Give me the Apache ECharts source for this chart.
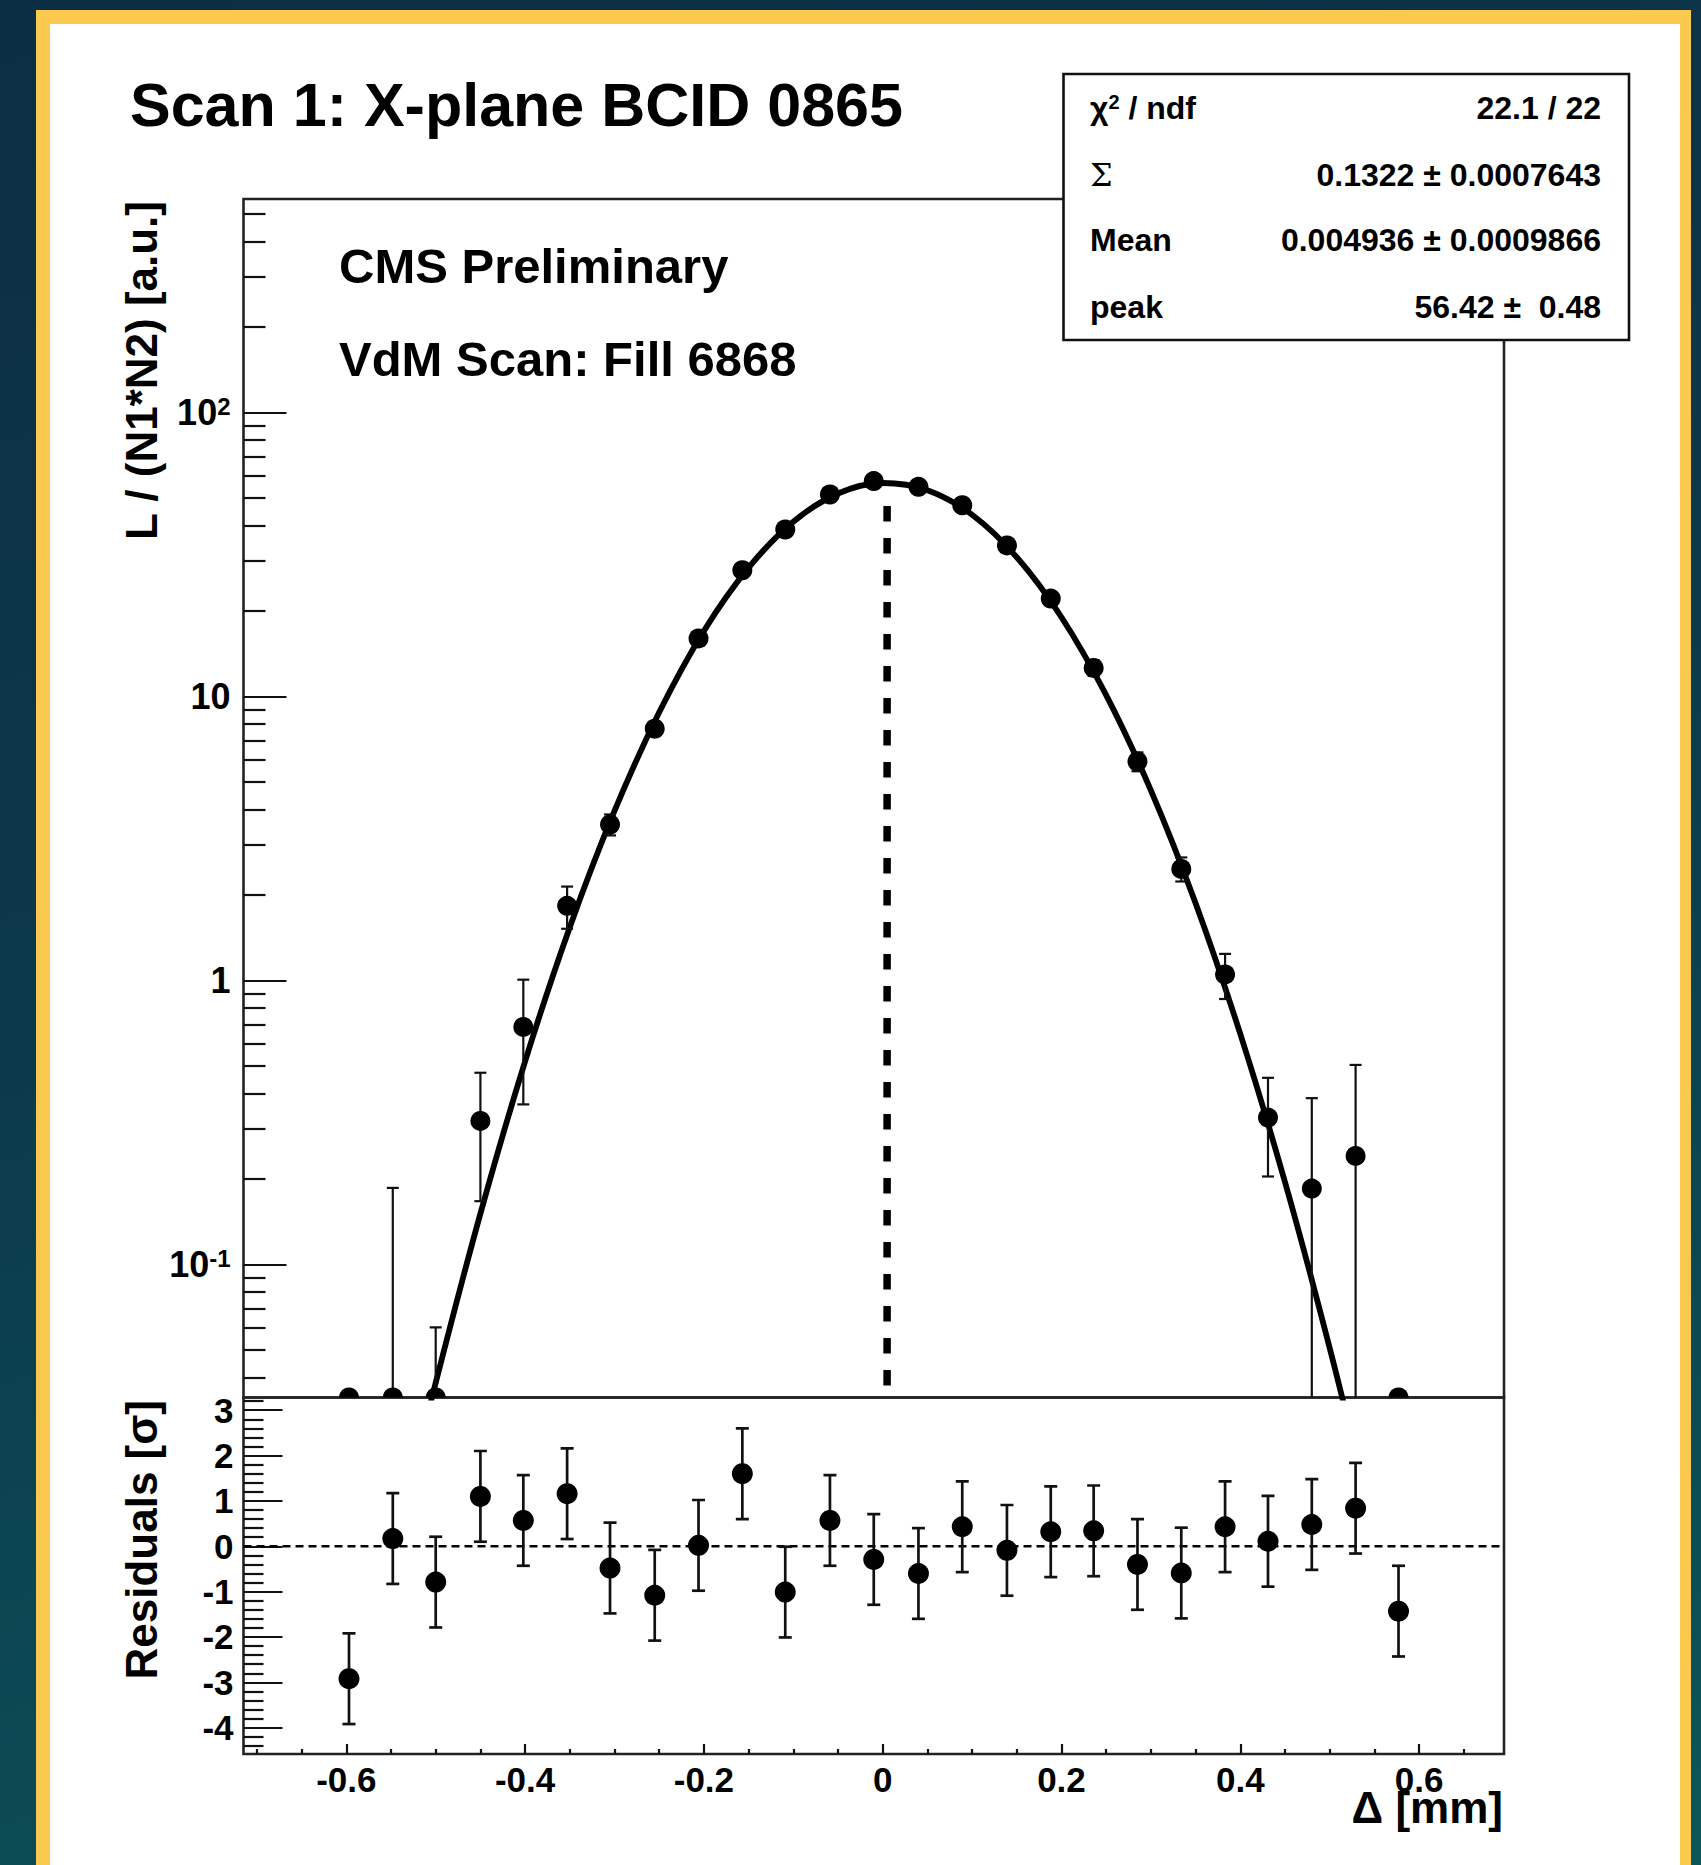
<!DOCTYPE html>
<html>
<head>
<meta charset="utf-8">
<script src="https://cdn.jsdelivr.net/npm/echarts@6/dist/echarts.min.js"></script>
<style>
html,body{margin:0;padding:0;width:1701px;height:1865px;overflow:hidden;}
body{position:relative;background:linear-gradient(165deg,#0c2e43 0%,#0c394c 45%,#0b5659 100%);}
#frame{position:absolute;left:36px;top:10px;width:1655px;height:1900px;background:#fcc94f;}
#panel{position:absolute;left:50px;top:24px;width:1630px;height:1900px;background:#ffffff;}
#chart{position:absolute;left:0;top:0;width:1701px;height:1865px;}
</style>
</head>
<body>
<div id="frame"></div>
<div id="panel"></div>
<div id="chart"></div>
<script>
// ---------------- data ----------------
const xPos = [-0.597, -0.548, -0.500, -0.450, -0.402, -0.353, -0.305, -0.255, -0.206, -0.157,
              -0.109, -0.059, -0.010, 0.040, 0.089, 0.139, 0.188, 0.236, 0.285, 0.334,
              0.383, 0.431, 0.480, 0.529, 0.577];
const lumi = [-0.045, 0.006, -0.040, 0.32, 0.686, 1.83, 3.54, 7.7, 16.0, 27.8,
              38.7, 51.4, 57.3, 54.7, 47.1, 34.0, 22.1, 12.6, 5.90, 2.47,
              1.05, 0.329, 0.185, 0.241, -0.05];
const lumiErr = [0.016, 0.18, 0.10, 0.153, 0.32, 0.31, 0.30, 0.45, 0.9, 0.75,
                 1.5, 2.1, 2.4, 2.6, 2.2, 1.6, 1.1, 0.8, 0.45, 0.24,
                 0.19, 0.125, 0.20, 0.263, 0.038];
const resid = [-2.92, 0.17, -0.79, 1.10, 0.57, 1.16, -0.48, -1.08, 0.02, 1.60,
               -1.01, 0.57, -0.29, -0.60, 0.43, -0.09, 0.32, 0.34, -0.40, -0.59,
               0.43, 0.11, 0.48, 0.84, -1.43];
const residErr = [1, 1, 1, 1, 1, 1, 1, 1, 1, 1, 1, 1, 1, 1, 1, 1, 1, 1, 1, 1, 1, 1, 1, 1, 1];

// fit curve
const fitX = [-0.53, -0.50, -0.45, -0.40, -0.35, -0.30, -0.25, -0.20, -0.15, -0.10, -0.05, 0.00,
              0.05, 0.10, 0.15, 0.20, 0.25, 0.30, 0.35, 0.40, 0.45, 0.50, 0.54];
const fitY = [0.0157, 0.0383, 0.151, 0.519, 1.54, 3.95, 8.79, 17.0, 28.4, 41.2, 51.8, 56.4,
              53.2, 43.6, 30.9, 19.0, 10.1, 4.67, 1.87, 0.648, 0.195, 0.0508, 0.0157];
const fitMean = 0.004936;
const meanLineTop = 48;   // top end of the dashed mean marker

// axes
const X_MIN = -0.715, X_MAX = 0.695;
const Y_MIN = 0.034, Y_MAX = 564;
const R_MIN = -4.58, R_MAX = 3.28;
const xMajorTicks = [-0.6, -0.4, -0.2, 0, 0.2, 0.4, 0.6];
const xMinorTicks = [-0.7, -0.65, -0.55, -0.5, -0.45, -0.35, -0.3, -0.25, -0.15, -0.1, -0.05,
                     0.05, 0.1, 0.15, 0.25, 0.3, 0.35, 0.45, 0.5, 0.55, 0.65];
const yMajorTicks = [0.1, 1, 10, 100];
const yMinorTicks = [0.04, 0.05, 0.06, 0.07, 0.08, 0.09,
                     0.2, 0.3, 0.4, 0.5, 0.6, 0.7, 0.8, 0.9,
                     2, 3, 4, 5, 6, 7, 8, 9,
                     20, 30, 40, 50, 60, 70, 80, 90,
                     200, 300, 400, 500];
const rMajorTicks = [-4, -3, -2, -1, 0, 1, 2, 3];
const rMinorTicks = [-4.4, -4.2, -3.8, -3.6, -3.4, -3.2, -2.8, -2.6, -2.4, -2.2,
                     -1.8, -1.6, -1.4, -1.2, -0.8, -0.6, -0.4, -0.2,
                     0.2, 0.4, 0.6, 0.8, 1.2, 1.4, 1.6, 1.8, 2.2, 2.4, 2.6, 2.8, 3.2];

// texts
const titleText = 'Scan 1: X-plane BCID 0865';
const cmsText = 'CMS Preliminary';
const fillText = 'VdM Scan: Fill 6868';
const yTitleUpper = 'L / (N1*N2) [a.u.]';
const yTitleLower = 'Residuals [σ]';
const xTitle = 'Δ [mm]';
const statRowsRight = ['22.1 / 22', '0.1322 ± 0.0007643', '0.004936 ± 0.0009866', '56.42 ±  0.48'];

// ---------------- chart ----------------
const FONT = '"Liberation Sans", Arial, Helvetica, sans-serif';
const INK = '#111';
const chart = echarts.init(document.getElementById('chart'), null, {renderer: 'svg'});

function renderUpper(params, api) {
  const x = api.value(0), v = api.value(1), e = api.value(2);
  const els = [];
  const top = v + e, bot = v - e;
  const floor = 1e-3;
  if (top > Y_MIN) {
    const pT = api.coord([x, top]);
    const pB = api.coord([x, Math.max(bot, floor)]);
    els.push({type: 'line', shape: {x1: pT[0], y1: pT[1], x2: pB[0], y2: pB[1]}, style: {stroke: INK, lineWidth: 2.2}});
    els.push({type: 'line', shape: {x1: pT[0] - 6, y1: pT[1], x2: pT[0] + 6, y2: pT[1]}, style: {stroke: INK, lineWidth: 2.2}});
    if (bot > floor) {
      els.push({type: 'line', shape: {x1: pB[0] - 6, y1: pB[1], x2: pB[0] + 6, y2: pB[1]}, style: {stroke: INK, lineWidth: 2.2}});
    }
  }
  const pc = api.coord([x, Math.max(v, Y_MIN)]);
  els.push({type: 'circle', shape: {cx: pc[0], cy: pc[1], r: 10}, style: {fill: '#000'}});
  return {type: 'group', children: els};
}

function renderResid(params, api) {
  const x = api.value(0), v = api.value(1), e = api.value(2);
  const pT = api.coord([x, v + e]);
  const pB = api.coord([x, v - e]);
  const pc = api.coord([x, v]);
  return {type: 'group', children: [
    {type: 'line', shape: {x1: pT[0], y1: pT[1], x2: pB[0], y2: pB[1]}, style: {stroke: INK, lineWidth: 2.7}},
    {type: 'line', shape: {x1: pT[0] - 6.5, y1: pT[1], x2: pT[0] + 6.5, y2: pT[1]}, style: {stroke: INK, lineWidth: 2.7}},
    {type: 'line', shape: {x1: pB[0] - 6.5, y1: pB[1], x2: pB[0] + 6.5, y2: pB[1]}, style: {stroke: INK, lineWidth: 2.7}},
    {type: 'circle', shape: {cx: pc[0], cy: pc[1], r: 10.5}, style: {fill: '#000'}}
  ]};
}

const tickLine = {color: INK, width: 2.2};
const labelBase = {color: '#000', fontFamily: FONT, fontWeight: 'bold', fontSize: 35};
const noLine = {show: false, onZero: false};

function logLabel(v) {
  const e = Math.round(Math.log10(v));
  if (e === 2) return '10{sup|2}';
  if (e === -1) return '10{sup|-1}';
  if (e === 1) return '10';
  return '1';
}

const G0 = {left: 243.5, top: 199, width: 1260.5, height: 1198.5};
const G1 = {left: 243.5, top: 1397.5, width: 1260.5, height: 356.5};
const frameStyle = {show: true, borderColor: '#222', borderWidth: 2.6, backgroundColor: 'transparent', containLabel: false};

const statLabels = [
  {text: '{a|χ}{s|2}{a| / ndf}', y: 108},
  {text: '{g|Σ}', y: 175},
  {text: '{a|Mean}', y: 240},
  {text: '{a|peak}', y: 307}
];
const statRich = {
  a: {fontFamily: FONT, fontWeight: 'bold', fontSize: 32, color: '#000'},
  g: {fontFamily: '"DejaVu Serif", serif', fontWeight: 'normal', fontSize: 32, color: '#000'},
  s: {fontFamily: FONT, fontWeight: 'bold', fontSize: 20, color: '#000', verticalAlign: 'top', lineHeight: 20}
};

const graphics = [
  {type: 'text', x: 130, y: 105, z: 50, style: {text: titleText, fontFamily: FONT, fontWeight: 'bold', fontSize: 61, fill: '#000', align: 'left', verticalAlign: 'middle'}},
  {type: 'text', x: 339, y: 266, z: 50, style: {text: cmsText, fontFamily: FONT, fontWeight: 'bold', fontSize: 49, fill: '#000', align: 'left', verticalAlign: 'middle'}},
  {type: 'text', x: 339, y: 359, z: 50, style: {text: fillText, fontFamily: FONT, fontWeight: 'bold', fontSize: 49, fill: '#000', align: 'left', verticalAlign: 'middle'}},
  {type: 'text', x: 141, y: 201, rotation: Math.PI / 2, z: 50, style: {text: yTitleUpper, fontFamily: FONT, fontWeight: 'bold', fontSize: 44, fill: '#000', align: 'right', verticalAlign: 'middle'}},
  {type: 'text', x: 141, y: 1400, rotation: Math.PI / 2, z: 50, style: {text: yTitleLower, fontFamily: FONT, fontWeight: 'bold', fontSize: 44, fill: '#000', align: 'right', verticalAlign: 'middle'}},
  {type: 'text', x: 1503, y: 1807, z: 50, style: {text: xTitle, fontFamily: FONT, fontWeight: 'bold', fontSize: 44, fill: '#000', align: 'right', verticalAlign: 'middle'}},
  {type: 'rect', z: 100, shape: {x: 1063.5, y: 74, width: 565.5, height: 266}, style: {fill: '#fff', stroke: '#111', lineWidth: 2.6}}
];
statLabels.forEach(function (r) {
  graphics.push({type: 'text', x: 1090, y: r.y, z: 101, style: {text: r.text, rich: statRich, fontFamily: FONT, fontWeight: 'bold', fontSize: 32, fill: '#000', align: 'left', verticalAlign: 'middle'}});
});
statRowsRight.forEach(function (t, i) {
  graphics.push({type: 'text', x: 1601, y: statLabels[i].y, z: 101, style: {text: t, fontFamily: FONT, fontWeight: 'bold', fontSize: 32, fill: '#000', align: 'right', verticalAlign: 'middle'}});
});

const option = {
  animation: false,
  backgroundColor: 'transparent',
  textStyle: {fontFamily: FONT},
  grid: [Object.assign({}, G0, frameStyle), Object.assign({}, G1, frameStyle)],
  xAxis: [
    {gridIndex: 0, type: 'value', min: X_MIN, max: X_MAX, show: false, axisLine: noLine},
    {gridIndex: 1, type: 'value', min: X_MIN, max: X_MAX, position: 'bottom',
     axisLine: noLine, splitLine: {show: false}, minorTick: {show: false},
     axisTick: {show: true, inside: true, length: 10, customValues: xMajorTicks, lineStyle: tickLine},
     axisLabel: Object.assign({show: true, customValues: xMajorTicks, margin: 25, verticalAlign: 'middle'}, labelBase)},
    {gridIndex: 1, type: 'value', min: X_MIN, max: X_MAX, position: 'bottom',
     axisLine: noLine, splitLine: {show: false}, axisLabel: {show: false},
     axisTick: {show: true, inside: true, length: 5, customValues: xMinorTicks, lineStyle: tickLine}}
  ],
  yAxis: [
    {gridIndex: 0, type: 'log', logBase: 10, min: Y_MIN, max: Y_MAX, position: 'left',
     axisLine: noLine, splitLine: {show: false}, minorTick: {show: false},
     axisTick: {show: true, inside: true, length: 43, customValues: yMajorTicks, lineStyle: tickLine},
     axisLabel: {show: true, customValues: yMajorTicks, margin: 13, formatter: logLabel, fontSize: 36,
       color: '#000', fontFamily: FONT, fontWeight: 'bold',
       rich: {sup: {fontFamily: FONT, fontWeight: 'bold', fontSize: 24, color: '#000', verticalAlign: 'top', lineHeight: 22}}}},
    {gridIndex: 0, type: 'log', logBase: 10, min: Y_MIN, max: Y_MAX, position: 'left',
     axisLine: noLine, splitLine: {show: false}, axisLabel: {show: false}, minorTick: {show: false},
     axisTick: {show: true, inside: true, length: 22, customValues: yMinorTicks, lineStyle: tickLine}},
    {gridIndex: 1, type: 'value', min: R_MIN, max: R_MAX, position: 'left',
     axisLine: noLine, splitLine: {show: false}, minorTick: {show: false},
     axisTick: {show: true, inside: true, length: 39, customValues: rMajorTicks, lineStyle: tickLine},
     axisLabel: Object.assign({show: true, customValues: rMajorTicks, margin: 10}, labelBase)},
    {gridIndex: 1, type: 'value', min: R_MIN, max: R_MAX, position: 'left',
     axisLine: noLine, splitLine: {show: false}, axisLabel: {show: false},
     axisTick: {show: true, inside: true, length: 20, customValues: rMinorTicks, lineStyle: tickLine}}
  ],
  series: [
    {type: 'line', name: 'fit', xAxisIndex: 0, yAxisIndex: 0, z: 3,
     data: fitX.map(function (x, i) { return [x, fitY[i]]; }),
     smooth: 0.35, symbol: 'none', showSymbol: false, clip: true,
     lineStyle: {color: '#000', width: 5.8}},
    {type: 'line', name: 'mean', xAxisIndex: 0, yAxisIndex: 0, z: 2,
     data: [[fitMean, Y_MIN], [fitMean, meanLineTop]], symbol: 'none', showSymbol: false, clip: true,
     lineStyle: {color: '#000', width: 7.5, type: [15.5, 16.5], dashOffset: 19.5}},
    {type: 'custom', name: 'data', xAxisIndex: 0, yAxisIndex: 0, z: 4, clip: true,
     data: xPos.map(function (x, i) { return [x, lumi[i], lumiErr[i]]; }),
     renderItem: renderUpper},
    {type: 'line', name: 'zero', xAxisIndex: 1, yAxisIndex: 2, z: 2,
     data: [[X_MIN, 0], [X_MAX, 0]], symbol: 'none', showSymbol: false,
     lineStyle: {color: '#000', width: 2.5, type: [8, 5]}},
    {type: 'custom', name: 'resid', xAxisIndex: 1, yAxisIndex: 2, z: 4, clip: true,
     data: xPos.map(function (x, i) { return [x, resid[i], residErr[i]]; }),
     renderItem: renderResid}
  ],
  graphic: graphics
};
chart.setOption(option);
</script>
</body>
</html>
